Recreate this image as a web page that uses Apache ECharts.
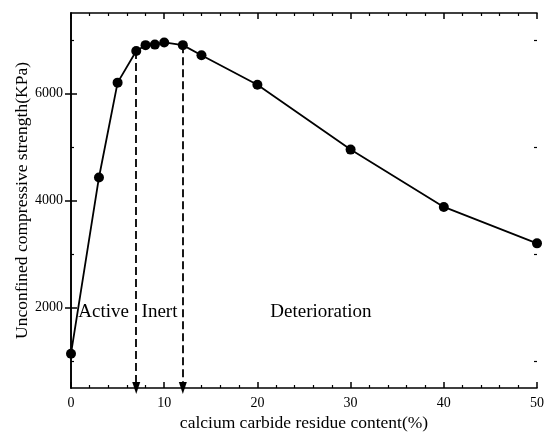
<!DOCTYPE html>
<html>
<head>
<meta charset="utf-8">
<script src="https://cdn.jsdelivr.net/npm/echarts@6/dist/echarts.min.js"></script>
<style>
html,body{margin:0;padding:0;background:#fff;}
#chart{width:550px;height:441px;}
</style>
</head>
<body>
<div id="chart"></div>
<script>
// Data
const content = [0, 3, 5, 7, 8, 9, 10, 12, 14, 20, 30, 40, 50];
const strength = [1140, 4430, 6200, 6790, 6900, 6910, 6950, 6900, 6710, 6160, 4950, 3880, 3200];
const dividers = [7, 12];
const regionNames = ['Active', 'Inert', 'Deterioration'];
const xTicks = [0, 10, 20, 30, 40, 50];
const yMajorTicks = [2000, 4000, 6000];
const yMinorTicks = [1000, 3000, 5000, 7000];
const xRange = [0, 50];
const yRange = [500, 7500];

const FONT = 'Liberation Serif';
const BLACK = '#000';

const chart = echarts.init(document.getElementById('chart'));

const points = content.map((x, i) => [x, strength[i]]);

function valueAt(x) {
  const i = content.indexOf(x);
  return strength[i];
}

const dividerLines = dividers.map(x => [
  { coord: [x, valueAt(x)], symbol: 'none' },
  { coord: [x, yRange[0]], symbol: 'triangle', symbolRotate: 180 }
]);

const bounds = [xRange[0], ...dividers, xRange[1]];
const labelPosX = ['50%', '50%', '39%'];
const regions = regionNames.map((name, i) => [
  {
    name: name,
    coord: [bounds[i], yRange[0]],
    label: {
      show: true,
      position: [labelPosX[i], '79.7%'],
      align: 'center',
      verticalAlign: 'middle',
      fontFamily: FONT,
      fontSize: 19,
      color: BLACK
    }
  },
  { coord: [bounds[i + 1], yRange[1]] }
]);

const axisLineStyle = { show: true, lineStyle: { color: BLACK, width: 1.6 } };
const plain = v => String(v);

const option = {
  animation: false,
  backgroundColor: '#fff',
  grid: { left: 71, right: 13, top: 13, bottom: 53, containLabel: false },
  xAxis: [
    {
      type: 'value', min: xRange[0], max: xRange[1], interval: 10,
      position: 'bottom',
      name: 'calcium carbide residue content(%)',
      nameLocation: 'middle', nameGap: 26, nameMoveOverlap: false,
      nameTextStyle: { fontFamily: FONT, fontSize: 17.5, color: BLACK },
      axisLine: axisLineStyle,
      axisTick: { show: true, inside: true, length: 6, lineStyle: { color: BLACK, width: 1.5 } },
      minorTick: { show: true, splitNumber: 5, length: 3, lineStyle: { color: BLACK, width: 1.2 } },
      axisLabel: { fontFamily: FONT, fontSize: 14, color: BLACK, margin: 8, customValues: xTicks, formatter: plain },
      splitLine: { show: false }
    },
    {
      type: 'value', min: xRange[0], max: xRange[1], interval: 10,
      position: 'top',
      axisLine: axisLineStyle,
      axisTick: { show: true, inside: true, length: 6, lineStyle: { color: BLACK, width: 1.5 } },
      minorTick: { show: true, splitNumber: 5, length: 3, lineStyle: { color: BLACK, width: 1.2 } },
      axisLabel: { show: false },
      splitLine: { show: false }
    }
  ],
  yAxis: [
    {
      type: 'value', min: yRange[0], max: yRange[1],
      position: 'left',
      name: 'Unconfined compressive strength(KPa)',
      nameLocation: 'middle', nameGap: 40, nameMoveOverlap: false,
      nameTextStyle: { fontFamily: FONT, fontSize: 17.5, color: BLACK },
      axisLine: axisLineStyle,
      axisTick: { show: true, inside: true, length: 6, customValues: yMajorTicks, lineStyle: { color: BLACK, width: 1.5 } },
      axisLabel: { fontFamily: FONT, fontSize: 14, color: BLACK, margin: 8, customValues: yMajorTicks, formatter: plain },
      splitLine: { show: false }
    },
    {
      type: 'value', min: yRange[0], max: yRange[1],
      position: 'right',
      axisLine: axisLineStyle,
      axisTick: { show: true, inside: true, length: 6, customValues: yMajorTicks, lineStyle: { color: BLACK, width: 1.5 } },
      axisLabel: { show: false },
      splitLine: { show: false }
    },
    {
      type: 'value', min: yRange[0], max: yRange[1],
      position: 'left',
      axisLine: { show: false },
      axisTick: { show: true, inside: true, length: 3, customValues: yMinorTicks, lineStyle: { color: BLACK, width: 1.2 } },
      axisLabel: { show: false },
      splitLine: { show: false }
    },
    {
      type: 'value', min: yRange[0], max: yRange[1],
      position: 'right',
      axisLine: { show: false },
      axisTick: { show: true, inside: true, length: 3, customValues: yMinorTicks, lineStyle: { color: BLACK, width: 1.2 } },
      axisLabel: { show: false },
      splitLine: { show: false }
    }
  ],
  series: [
    {
      type: 'line',
      xAxisIndex: 0, yAxisIndex: 0,
      data: points,
      symbol: 'circle',
      symbolSize: 10,
      lineStyle: { color: BLACK, width: 1.8 },
      itemStyle: { color: BLACK },
      z: 5,
      markLine: {
        silent: true,
        symbolSize: [8, 12],
        label: { show: false },
        lineStyle: { color: BLACK, width: 1.8, type: [8, 4] },
        data: dividerLines
      },
      markArea: {
        silent: true,
        itemStyle: { color: 'rgba(0,0,0,0)' },
        data: regions
      }
    }
  ]
};

chart.setOption(option);
</script>
</body>
</html>
